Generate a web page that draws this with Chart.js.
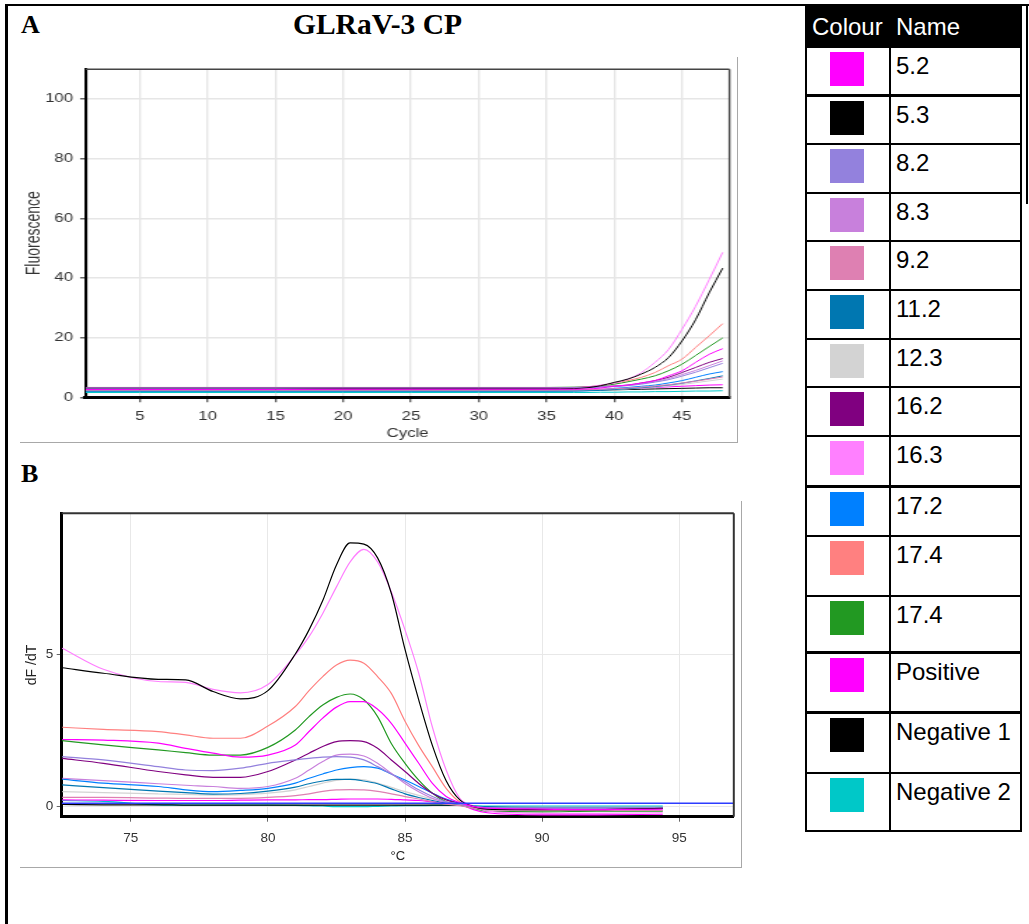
<!DOCTYPE html>
<html>
<head>
<meta charset="utf-8">
<title>GLRaV-3 CP</title>
<script src="https://cdn.jsdelivr.net/npm/chart.js@4.4.1/dist/chart.umd.min.js"></script>
<style>
	body {
		margin: 0;
		background: #fff;
		width: 1029px;
		height: 924px;
		position: relative;
		overflow: hidden;
		font-family: 'Liberation Sans', Arial, sans-serif;
	}
	.abs { position: absolute; }
	.serif {
		font-family: 'Liberation Serif', 'Times New Roman', serif;
		font-weight: bold;
		line-height: 1;
		white-space: nowrap;
		color: #000;
	}
	.frame {
		border-right: 1.5px solid #a8a8a8;
		border-bottom: 1.5px solid #a8a8a8;
		box-sizing: border-box;
	}
	.cell-text {
		font-size: 24px;
		line-height: 24px;
		white-space: nowrap;
	}
</style>
</head>
<body>

<!-- figure outline -->
<div class="abs" style="left:5px; top:4px; width:1024px; height:2px; background:#000;"></div>
<div class="abs" style="left:5px; top:4px; width:2.5px; height:920px; background:#000;"></div>
<div class="abs" style="left:1026px; top:4px; width:2px; height:200px; background:#000;"></div>

<div class="abs serif" style="left:21px; top:11.5px; font-size:26px;">A</div>
<div class="abs serif" style="left:377.5px; top:10.3px; font-size:29.5px; transform:translateX(-50%);">GLRaV-3 CP</div>
<div class="abs serif" style="left:21px; top:460.5px; font-size:26px;">B</div>

<div class="abs frame" style="left:20px; top:57px; width:718px; height:386px;"></div>
<canvas id="chart-a" class="abs" width="512" height="385" style="left:20px; top:57px; width:717px; height:385px;"></canvas>

<div class="abs frame" style="left:20px; top:501px; width:722px; height:367px;"></div>
<canvas id="chart-b" class="abs" width="721" height="366" style="left:20px; top:501px; width:721px; height:366px;"></canvas>

<div id="legend"></div>

<script>
'use strict';

// legend / sample table
var NAMES = ['5.2', '5.3', '8.2', '8.3', '9.2', '11.2', '12.3', '16.2', '16.3', '17.2', '17.4', '17.4', 'Positive', 'Negative 1', 'Negative 2'];
var COLORS = ['#ff00ff', '#000000', '#9381dd', '#c880dc', '#de80b2', '#0077b1', '#d3d3d3', '#800080', '#ff80ff', '#0080ff', '#ff8080', '#229922', '#ff00ff', '#000000', '#00c8c8'];

// A: amplification (Fluorescence vs Cycle)
var CYCLES = [1, 5, 10, 15, 20, 25, 30, 35, 37, 38, 39, 40, 41, 42, 43, 44, 45, 46, 47, 48];
var AMP_5_2 = [2.6, 2.6, 2.6, 2.6, 2.7, 2.7, 2.7, 2.7, 2.7, 2.8, 3.1, 3.7, 4.1, 4.8, 5.6, 7.2, 8.9, 11.7, 14.4, 16.3];
var AMP_5_3 = [2.7, 2.7, 2.7, 2.7, 2.8, 2.8, 2.8, 2.8, 2.9, 3.2, 3.9, 5.0, 6.1, 7.8, 10.0, 13.3, 18.9, 26.0, 35.0, 43.3];
var AMP_8_2 = [3.0, 3.0, 3.0, 3.0, 3.0, 3.0, 3.0, 3.0, 3.1, 3.2, 3.4, 3.6, 3.9, 4.4, 5.1, 5.9, 7.1, 8.4, 9.9, 11.4];
var AMP_8_3 = [3.1, 3.1, 3.1, 3.1, 3.1, 3.1, 3.1, 3.1, 3.2, 3.3, 3.5, 3.7, 4.0, 4.6, 5.3, 6.3, 7.6, 9.0, 10.6, 12.2];
var AMP_9_2 = [2.4, 2.4, 2.4, 2.4, 2.4, 2.4, 2.4, 2.4, 2.5, 2.6, 2.7, 2.9, 3.1, 3.4, 3.8, 4.2, 4.8, 5.4, 6.1, 6.8];
var AMP_11_2 = [2.1, 2.1, 2.1, 2.1, 2.1, 2.1, 2.1, 2.1, 2.1, 2.2, 2.3, 2.6, 2.9, 3.2, 3.6, 4.1, 4.7, 5.5, 6.3, 7.2];
var AMP_12_3 = [2.2, 2.2, 2.2, 2.2, 2.2, 2.2, 2.2, 2.2, 2.2, 2.3, 2.4, 2.5, 2.8, 3.1, 3.4, 3.8, 4.3, 4.9, 5.5, 6.1];
var AMP_16_2 = [3.2, 3.2, 3.2, 3.2, 3.2, 3.2, 3.2, 3.2, 3.3, 3.4, 3.6, 3.8, 4.1, 4.8, 5.6, 6.7, 8.3, 10.0, 11.7, 13.0];
var AMP_16_3 = [3.0, 3.0, 3.0, 3.0, 3.0, 3.0, 3.0, 3.1, 3.2, 3.5, 4.1, 4.8, 6.1, 8.3, 11.7, 16.0, 22.8, 30.5, 39.4, 48.6];
var AMP_17_2 = [2.0, 2.0, 2.0, 2.0, 2.0, 2.0, 2.0, 2.0, 2.1, 2.2, 2.5, 3.0, 3.3, 3.7, 4.1, 4.8, 5.6, 6.7, 7.8, 8.6];
var AMP_17_4A = [3.0, 3.0, 3.0, 3.0, 3.0, 3.0, 3.0, 3.1, 3.2, 3.5, 4.0, 4.8, 5.6, 6.7, 8.3, 10.6, 12.8, 16.7, 20.6, 24.7];
var AMP_17_4B = [3.3, 3.3, 3.3, 3.3, 3.3, 3.3, 3.3, 3.3, 3.4, 3.5, 3.9, 4.4, 5.2, 6.1, 7.2, 8.9, 11.1, 14.0, 17.0, 19.9];
var AMP_POS = [2.5, 2.5, 2.5, 2.5, 2.5, 2.5, 2.5, 2.5, 2.5, 2.6, 2.7, 2.8, 2.9, 3.1, 3.3, 3.5, 3.7, 3.9, 4.1, 4.2];
var AMP_NEG1 = [2.3, 2.3, 2.3, 2.3, 2.3, 2.3, 2.3, 2.3, 2.3, 2.4, 2.4, 2.5, 2.6, 2.7, 2.8, 2.9, 3.0, 3.1, 3.2, 3.2];
var AMP_NEG2 = [1.6, 1.6, 1.6, 1.6, 1.6, 1.6, 1.6, 1.6, 1.6, 1.6, 1.7, 1.7, 1.8, 1.8, 1.9, 1.9, 2.0, 2.1, 2.1, 2.2];

// B: melt curve (dF/dT vs temperature)
var TEMPS = [72.5, 74, 76, 77, 78, 79, 80, 81, 81.5, 82, 82.5, 83, 83.5, 84, 84.5, 85, 85.5, 86, 86.5, 87, 87.5, 88, 90, 92, 94.4];
var MELT_5_2 = [2.2, 2.18, 2.08, 1.91, 1.75, 1.62, 1.69, 2.02, 2.46, 2.9, 3.26, 3.44, 3.44, 3.19, 2.73, 2.08, 1.42, 0.76, 0.33, 0.13, 0.0, -0.05, -0.08, -0.1, -0.08];
var MELT_5_3 = [4.55, 4.37, 4.17, 4.15, 3.77, 3.53, 3.8, 5.0, 5.79, 6.75, 7.92, 8.64, 8.6, 8.15, 6.99, 5.15, 3.5, 2.0, 0.85, 0.22, 0.0, -0.08, -0.1, -0.1, -0.06];
var MELT_8_2 = [1.64, 1.53, 1.31, 1.2, 1.18, 1.26, 1.42, 1.53, 1.58, 1.62, 1.64, 1.62, 1.53, 1.31, 1.07, 0.82, 0.55, 0.33, 0.16, 0.09, 0.0, -0.04, -0.05, -0.05, -0.04];
var MELT_8_3 = [0.93, 0.85, 0.75, 0.7, 0.66, 0.6, 0.66, 0.93, 1.2, 1.48, 1.69, 1.72, 1.66, 1.42, 1.09, 0.76, 0.49, 0.27, 0.14, 0.08, 0.0, -0.04, -0.05, -0.05, -0.04];
var MELT_9_2 = [0.3, 0.3, 0.28, 0.27, 0.27, 0.27, 0.3, 0.36, 0.42, 0.5, 0.55, 0.56, 0.55, 0.5, 0.42, 0.33, 0.25, 0.16, 0.08, 0.03, -0.05, -0.1, -0.12, -0.12, -0.12];
var MELT_11_2 = [0.71, 0.62, 0.51, 0.46, 0.41, 0.43, 0.51, 0.64, 0.75, 0.84, 0.89, 0.89, 0.84, 0.75, 0.58, 0.42, 0.3, 0.2, 0.12, 0.07, 0.02, 0.0, -0.02, -0.02, -0.02];
var MELT_12_3 = [0.49, 0.46, 0.42, 0.4, 0.38, 0.39, 0.44, 0.55, 0.66, 0.77, 0.86, 0.9, 0.88, 0.77, 0.63, 0.49, 0.37, 0.25, 0.15, 0.08, 0.02, 0.0, -0.02, -0.02, -0.02];
var MELT_16_2 = [1.58, 1.42, 1.15, 1.04, 0.96, 0.96, 1.15, 1.53, 1.75, 1.97, 2.13, 2.16, 2.13, 1.91, 1.53, 1.15, 0.76, 0.44, 0.22, 0.11, 0.0, -0.06, -0.08, -0.08, -0.06];
var MELT_16_3 = [5.19, 4.5, 4.1, 4.07, 3.84, 3.73, 4.0, 4.97, 5.57, 6.33, 7.2, 8.02, 8.43, 8.02, 7.04, 5.79, 4.37, 2.6, 1.2, 0.27, 0.02, -0.15, -0.22, -0.22, -0.2];
var MELT_17_2 = [0.9, 0.77, 0.66, 0.55, 0.49, 0.53, 0.6, 0.77, 0.93, 1.07, 1.2, 1.28, 1.31, 1.26, 1.07, 0.87, 0.66, 0.44, 0.25, 0.11, 0.02, -0.02, -0.04, -0.04, -0.03];
var MELT_17_4A = [2.6, 2.53, 2.46, 2.35, 2.24, 2.24, 2.64, 3.28, 3.8, 4.26, 4.64, 4.8, 4.7, 4.26, 3.71, 2.8, 2.0, 1.3, 0.6, 0.15, 0.0, -0.05, -0.08, -0.06, -0.05];
var MELT_17_4B = [2.16, 2.02, 1.86, 1.77, 1.69, 1.69, 1.94, 2.51, 2.95, 3.33, 3.58, 3.69, 3.5, 2.95, 2.07, 1.42, 0.87, 0.44, 0.16, 0.05, -0.05, -0.15, -0.17, -0.15, -0.15];
var MELT_POS = [0.22, 0.21, 0.2, 0.2, 0.2, 0.21, 0.22, 0.22, 0.23, 0.23, 0.24, 0.25, 0.25, 0.25, 0.24, 0.22, 0.2, 0.16, 0.12, 0.08, -0.1, -0.2, -0.27, -0.27, -0.25];
var MELT_NEG1 = [0.07, 0.06, 0.06, 0.05, 0.05, 0.05, 0.05, 0.05, 0.05, 0.05, 0.05, 0.05, 0.05, 0.05, 0.05, 0.05, 0.05, 0.05, 0.05, 0.05, 0.0, -0.02, -0.05, -0.05, -0.03];
var MELT_NEG2 = [0.2, 0.17, 0.06, 0.05, 0.05, 0.05, 0.05, 0.04, 0.03, 0.02, 0.0, 0.0, 0.0, 0.01, 0.02, 0.03, 0.03, 0.04, 0.04, 0.04, 0.03, 0.02, 0.02, 0.02, 0.02];

// threshold line in B
var THRESHOLD_T = [72.48, 96.99];
var THRESHOLD_V = [0.11, 0.11];

var AMP = [AMP_5_2, AMP_5_3, AMP_8_2, AMP_8_3, AMP_9_2, AMP_11_2, AMP_12_3, AMP_16_2, AMP_16_3, AMP_17_2, AMP_17_4A, AMP_17_4B, AMP_POS, AMP_NEG1, AMP_NEG2];
var MELT = [MELT_5_2, MELT_5_3, MELT_8_2, MELT_8_3, MELT_9_2, MELT_11_2, MELT_12_3, MELT_16_2, MELT_16_3, MELT_17_2, MELT_17_4A, MELT_17_4B, MELT_POS, MELT_NEG1, MELT_NEG2];

// --- helpers

function toPoints(xs, ys) {
	return xs.map(function(x, i) {
		return {x: x, y: ys[i]};
	});
}

// ticks only at whole multiples of step inside the axis range
function stepTicks(step) {
	return function(scale) {
		var ticks = [];
		var v;
		for (v = Math.ceil(scale.min / step - 1e-9) * step; v <= scale.max + 1e-9; v += step) {
			ticks.push({value: v});
		}
		scale.ticks = ticks;
	};
}

function fixWidth(w) {
	return function(scale) { scale.width = w; };
}

function fixHeight(h) {
	return function(scale) { scale.height = h; };
}

// top and right edges of the plot box
var plotFrame = {
	id: 'plotFrame',
	afterDraw: function(chart, args, opts) {
		var ctx = chart.ctx;
		var a = chart.chartArea;
		ctx.save();
		ctx.strokeStyle = opts.color;
		ctx.lineWidth = opts.topWidth;
		ctx.beginPath();
		ctx.moveTo(a.left, a.top);
		ctx.lineTo(a.right, a.top);
		ctx.stroke();
		ctx.lineWidth = opts.rightWidth;
		ctx.beginPath();
		ctx.moveTo(a.right, a.top);
		ctx.lineTo(a.right, a.bottom);
		ctx.stroke();
		ctx.restore();
	}
};

var FONT = "'Liberation Sans', Arial, sans-serif";

function lineSet(label, color, points, width) {
	return {
		label: label,
		data: points,
		borderColor: color,
		backgroundColor: color,
		borderWidth: width,
		pointRadius: 0,
		fill: false,
		cubicInterpolationMode: 'monotone'
	};
}

// --- chart A (canvas is stretched 717/512 horizontally like the source figure)

var dsA = NAMES.map(function(n, i) {
	return lineSet(n, COLORS[i], toPoints(CYCLES, AMP[i]), 1);
});

new Chart(document.getElementById('chart-a'), {
	type: 'line',
	data: {datasets: dsA},
	options: {
		responsive: false,
		animation: false,
		events: [],
		layout: {padding: {top: 11.3, right: 5.4, left: 0, bottom: 0}},
		plugins: {
			legend: {display: false},
			tooltip: {enabled: false},
			plotFrame: {color: '#444', topWidth: 1.5, rightWidth: 1.4}
		},
		scales: {
			x: {
				type: 'linear',
				min: 1,
				max: 48.5,
				ticks: {color: '#333', padding: 7.5, font: {family: FONT, size: 12}},
				afterBuildTicks: stepTicks(5),
				afterFit: fixHeight(44.7),
				grid: {color: '#e6e6e6', lineWidth: 1.4, tickLength: 5, tickColor: '#666'},
				border: {color: '#000', width: 3},
				title: {display: true, text: 'Cycle', color: '#333', font: {family: FONT, size: 12}, padding: {top: 0, bottom: 1}}
			},
			y: {
				min: 0,
				max: 110,
				ticks: {color: '#333', padding: 5, font: {family: FONT, size: 12}},
				afterBuildTicks: stepTicks(20),
				afterFit: fixWidth(46.9),
				grid: {color: '#e6e6e6', lineWidth: 1.5, tickLength: 4, tickColor: '#666'},
				border: {color: '#000', width: 2.1},
				title: {display: true, text: 'Fluorescence', color: '#333', font: {family: FONT, size: 14}, padding: {top: 1.3, bottom: 0}}
			}
		}
	},
	plugins: [plotFrame]
});

// --- chart B

var dsB = [lineSet('threshold', '#2d3cff', toPoints(THRESHOLD_T, THRESHOLD_V), 1.3)].concat(
	NAMES.map(function(n, i) {
		return lineSet(n, COLORS[i], toPoints(TEMPS, MELT[i]), 1.2);
	})
);

new Chart(document.getElementById('chart-b'), {
	type: 'line',
	data: {datasets: dsB},
	options: {
		responsive: false,
		animation: false,
		events: [],
		layout: {padding: {top: 12.3, right: 7.2, left: 0, bottom: 0}},
		plugins: {
			legend: {display: false},
			tooltip: {enabled: false},
			plotFrame: {color: '#333', topWidth: 2, rightWidth: 2}
		},
		scales: {
			x: {
				type: 'linear',
				min: 72.48,
				max: 96.99,
				ticks: {color: '#333', padding: 8.5, font: {family: FONT, size: 13.5}},
				afterBuildTicks: stepTicks(5),
				afterFit: fixHeight(50.3),
				grid: {color: '#e8e8e8', lineWidth: 1, tickLength: 5, tickColor: '#666'},
				border: {color: '#000', width: 3},
				title: {display: true, text: '°C', color: '#222', font: {family: FONT, size: 13}, padding: {top: 0, bottom: 2.5}}
			},
			y: {
				min: -0.33,
				max: 9.61,
				ticks: {color: '#333', padding: 3.4, font: {family: FONT, size: 13.5}},
				afterBuildTicks: stepTicks(5),
				afterFit: fixWidth(41.7),
				grid: {color: '#e8e8e8', lineWidth: 1, tickLength: 5, tickColor: '#666'},
				border: {color: '#000', width: 3},
				title: {display: true, text: 'dF /dT', color: '#222', font: {family: FONT, size: 14}, padding: {top: 3.3, bottom: 0}}
			}
		}
	},
	plugins: [plotFrame]
});

// --- legend table

var ROW_EDGES = [47, 95.5, 144, 192.7, 241.3, 290, 338.7, 387.3, 436, 486.5, 535.7, 595.7, 652.5, 712.5, 772.7, 830.7];
var TABLE_LEFT = 806;
var TABLE_MID = 890.3;
var TABLE_RIGHT = 1020.7;
var RULE = 2.4;

var legend = document.getElementById('legend');

function addBox(left, top, width, height, bg) {
	var d = document.createElement('div');
	d.className = 'abs';
	d.style.left = left + 'px';
	d.style.top = top + 'px';
	d.style.width = width + 'px';
	d.style.height = height + 'px';
	d.style.background = bg;
	legend.appendChild(d);
	return d;
}

function addText(left, top, text, color) {
	var d = document.createElement('div');
	d.className = 'abs cell-text';
	d.style.left = left + 'px';
	d.style.top = top + 'px';
	d.style.color = color;
	d.textContent = text;
	legend.appendChild(d);
}

// header
addBox(TABLE_LEFT, 4, TABLE_RIGHT - TABLE_LEFT + RULE / 2, ROW_EDGES[0] - 4, '#000');
addText(812, 14.7, 'Colour', '#fff');
addText(896, 14.7, 'Name', '#fff');

NAMES.forEach(function(name, i) {
	var top = ROW_EDGES[i];
	addBox(830, top + 5, 34, 34, COLORS[i]);
	addText(896, top + 7, name, '#000');
});

// rules
var last = ROW_EDGES[ROW_EDGES.length - 1];
ROW_EDGES.forEach(function(y) {
	addBox(TABLE_LEFT, y - RULE / 2, TABLE_RIGHT - TABLE_LEFT + RULE / 2, RULE, '#000');
});
[TABLE_LEFT, TABLE_MID, TABLE_RIGHT].forEach(function(x) {
	addBox(x - RULE / 2, ROW_EDGES[0], RULE, last - ROW_EDGES[0] + RULE / 2, '#000');
});
addBox(TABLE_LEFT - RULE / 2, 4, RULE, ROW_EDGES[0] - 4, '#000');
</script>
</body>
</html>
